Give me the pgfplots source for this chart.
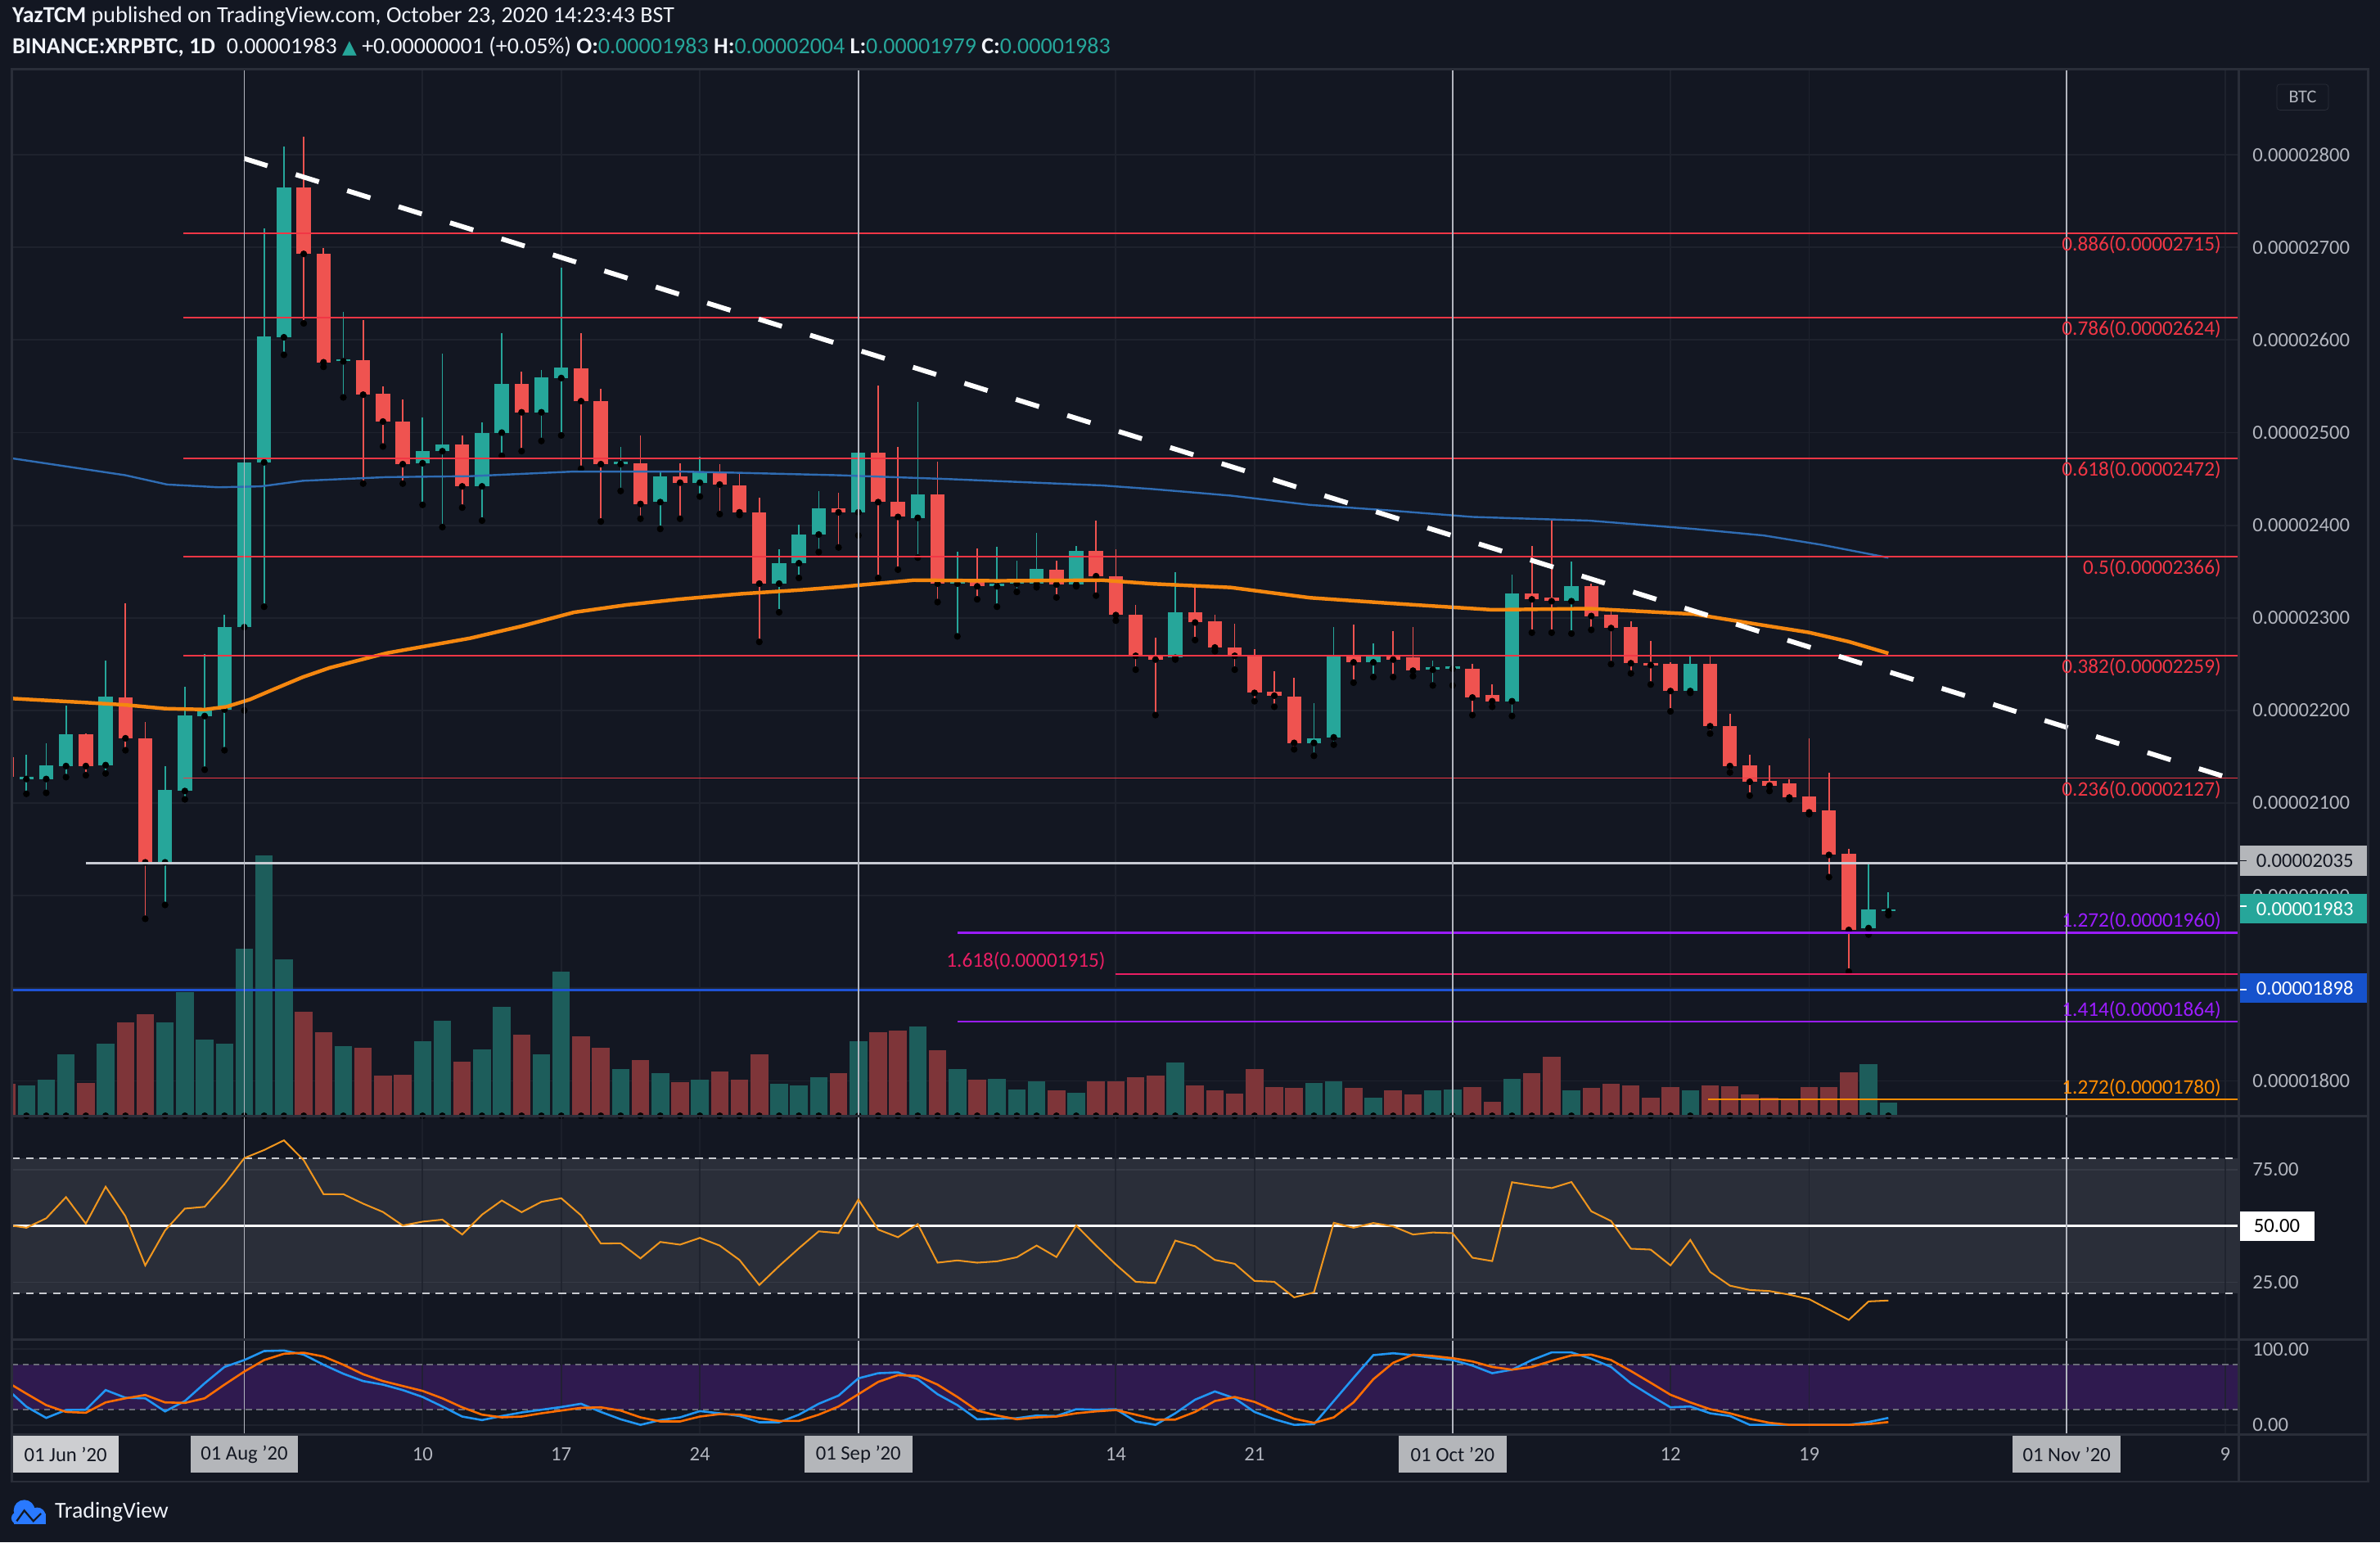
\documentclass[border=0pt]{standalone}
\usepackage{pgfplots}
\pgfplotsset{compat=1.18}
\usepackage{pgfplotstable}
\usepackage{fontspec}
\setmainfont{Carlito}
\newfontfamily\dejavu{DejaVu Sans}

\definecolor{bg}{HTML}{131722}
\definecolor{gridc}{HTML}{1E222D}
\definecolor{framec}{HTML}{2A2E39}
\definecolor{upc}{HTML}{26A69A}
\definecolor{dnc}{HTML}{EF5350}
\definecolor{volup}{HTML}{1D5D5B}
\definecolor{voldn}{HTML}{7E3539}
\definecolor{fibred}{HTML}{F23645}
\definecolor{purp}{HTML}{9B1CFF}
\definecolor{pinkc}{HTML}{E91E63}
\definecolor{bluel}{HTML}{1E53D6}
\definecolor{bluebox}{HTML}{1652CC}
\definecolor{orl}{HTML}{FF8C00}
\definecolor{ma100}{HTML}{F5870F}
\definecolor{ma200}{HTML}{2F6CB3}
\definecolor{tvtext}{HTML}{B2B5BE}
\definecolor{rsiband}{HTML}{2A2E39}
\definecolor{rsigrid}{HTML}{363A45}
\definecolor{stband}{HTML}{2F1A4F}
\definecolor{rsic}{HTML}{F0961E}
\definecolor{stk}{HTML}{2196F3}
\definecolor{std}{HTML}{FF6D00}
\definecolor{labelbox}{HTML}{B4B6BA}
\definecolor{junbox}{HTML}{CDCED1}
\definecolor{monthc}{HTML}{B2B5BE}
\definecolor{hdr}{HTML}{F0F3FA}
\definecolor{line2035}{HTML}{C8CBD3}
\definecolor{rsidash}{HTML}{C8CAD0}
\definecolor{stdash}{HTML}{6A6D78}
\definecolor{tvblue}{HTML}{2979FF}

\newcommand{\tickfont}{\fontsize{13.3}{15}\selectfont}
\newcommand{\lblfont}{\fontsize{13.6}{15}\selectfont}

% candles: d O H L C V   (prices in 1e-8 BTC)
\pgfplotstableread{
d O H L C V
-11 2126 2152 2110 2127 98
-10 2126 2165 2111 2141 114
-9 2140 2205 2128 2174 195
-7 2141 2254 2132 2215 231
-4 2036 2140 1990 2114 297
-3 2113 2226 2104 2195 396
-2 2194 2261 2136 2201 244
-1 2201 2303 2157 2290 231
0 2290 2519 2200 2468 532
1 2468 2721 2312 2604 832
2 2603 2809 2584 2765 500
5 2577 2630 2538 2578 223
9 2467 2516 2422 2480 237
10 2480 2585 2398 2487 304
12 2442 2511 2405 2500 213
13 2500 2607 2475 2553 349
15 2522 2568 2491 2560 197
16 2559 2678 2497 2570 459
19 2466 2485 2437 2468 148
21 2425 2457 2396 2453 135
23 2446 2474 2431 2458 116
27 2337 2374 2306 2359 103
28 2359 2401 2343 2390 98
29 2390 2437 2371 2418 124
31 2414 2491 2389 2478 239
34 2408 2533 2365 2433 286
36 2337 2371 2280 2338 148
38 2334 2377 2312 2337 119
39 2337 2362 2328 2339 85
40 2337 2392 2333 2353 111
42 2336 2378 2334 2372 74
47 2257 2349 2255 2306 169
54 2165 2208 2151 2170 106
55 2171 2290 2163 2260 111
57 2252 2272 2236 2260 59
60 2244 2254 2227 2246 80
61 2245 2256 2227 2246 85
64 2210 2347 2194 2326 119
67 2318 2361 2283 2334 82
73 2221 2259 2219 2250 80
82 1965 2034 1958 1985 166
83 1983 2004 1979 1983 43
}\upT

\pgfplotstableread{
d O H L C V
-12 2150 2169 2126 2128 103
-8 2174 2175 2130 2140 106
-6 2214 2316 2157 2170 299
-5 2170 2188 1975 2036 323
3 2765 2820 2618 2693 333
4 2693 2699 2571 2576 268
6 2578 2622 2445 2541 218
7 2542 2550 2485 2512 127
8 2512 2536 2445 2466 132
11 2487 2497 2419 2442 174
14 2553 2566 2480 2522 260
17 2569 2607 2461 2534 255
18 2534 2547 2404 2466 218
20 2467 2497 2407 2423 179
22 2453 2467 2407 2446 108
24 2457 2466 2412 2444 142
25 2443 2456 2411 2414 114
26 2414 2430 2274 2337 197
30 2418 2435 2376 2414 135
32 2478 2551 2343 2425 268
33 2425 2485 2352 2409 273
35 2433 2469 2317 2337 208
37 2341 2375 2320 2334 116
41 2352 2362 2322 2336 82
43 2372 2405 2324 2345 111
44 2345 2374 2297 2303 111
45 2303 2314 2244 2259 122
46 2259 2279 2195 2255 129
48 2306 2333 2276 2295 98
49 2296 2303 2264 2268 82
50 2268 2294 2244 2259 72
51 2260 2266 2210 2219 150
52 2220 2242 2204 2216 93
53 2215 2235 2158 2165 88
56 2260 2293 2230 2252 90
58 2260 2286 2236 2255 82
59 2257 2290 2237 2243 69
62 2245 2250 2195 2214 93
63 2217 2228 2204 2210 46
65 2326 2378 2284 2320 137
66 2322 2407 2284 2318 189
68 2334 2337 2287 2302 90
69 2303 2310 2250 2289 101
70 2290 2296 2240 2251 98
71 2251 2275 2228 2249 59
72 2250 2252 2199 2221 93
74 2250 2258 2175 2183 98
75 2183 2196 2133 2140 95
76 2141 2152 2108 2123 69
77 2124 2141 2113 2119 59
78 2121 2126 2104 2106 56
79 2107 2170 2088 2090 93
80 2092 2133 2020 2044 93
81 2045 2051 1918 1963 140
}\dnT

\pgfplotstableread{
d p
-11.8 2213
-8.4 2209
-6 2206
-4 2202
-2 2201
-0.9 2204
0.3 2212
1.5 2223
2.95 2236
4.3 2246
7.2 2262
11.4 2278
14 2291
16.65 2306
19.3 2314
21.9 2320
25.1 2326
28 2330
30.1 2333.5
33.8 2340.7
38 2340
43.3 2340.7
45.9 2336.7
49.8 2332.8
53.8 2321.7
57.8 2315.8
63 2308.7
67.9 2310
73.2 2304
76.1 2294
79 2284.2
81 2274.3
83 2261.7
}\maA

\pgfplotstableread{
d p
-11.8 2472.5
-6 2454
-3.9 2444
-1.3 2441
0.84 2442
2.95 2448
7.2 2452
11.4 2453
16.65 2458
21.9 2458
24.85 2456.7
30 2454
35.4 2450
43.3 2443
45.9 2439
49.8 2432
53.8 2422
57.8 2416
62 2409
67.9 2405
73.2 2396
76.7 2389
79.6 2379
83 2365
}\maB

\pgfplotstableread{
d r
-12 50.5
-11 49.2
-10 53.4
-9 62.8
-8 51
-7 67.4
-6 54.3
-5 32.5
-4 48
-3 57.7
-2 58.5
-1 68.6
0 80.1
1 83.7
2 88
3 79.2
4 64.1
5 64.1
6 59.9
7 56.2
8 50.2
9 51.9
10 52.8
11 46.2
12 55
13 61.3
14 56.1
15 60.7
16 62.3
17 54.7
18 42.2
19 42.3
20 35.6
21 42.9
22 41.7
23 44.7
24 41.3
25 34.9
26 23.8
27 32.2
28 40.1
29 47.6
30 46.8
31 61.7
32 48.4
33 45
34 50.8
35 33.7
36 34.7
37 33.7
38 34.3
39 36.1
40 41.3
41 36.2
42 50.2
43 41.3
44 32.9
45 25.2
46 24.7
47 43.5
48 41
49 34.9
50 33.2
51 25.6
52 25.2
53 18.3
54 20.5
55 51.4
56 49.2
57 51.3
58 49.8
59 46.2
60 47.1
61 46.8
62 35.9
63 34.4
64 69.4
65 68
66 66.8
67 69.5
68 56.5
69 52.2
70 39.9
71 39.5
72 32.5
73 43.8
74 29.6
75 23.5
76 21.6
77 21.1
78 19.5
79 17.5
80 12.9
81 8.3
82 16.5
83 16.9
}\rsiT

\pgfplotstableread{
d k s
-12 48 57
-11 24 41.3
-10 9.2 26.1
-9 19.6 17.1
-8 20 16
-7 46 29.7
-6 35.9 35.1
-5 35.1 39.5
-4 17.8 29.7
-3 31.5 29
-2 55 35.1
-1 76.6 53.2
0 85.7 70.5
1 97.6 85.7
2 98.3 94
3 92.9 95.4
4 79.5 90.4
5 67.6 79.5
6 57.9 66.9
7 53.2 57.9
8 46 51.4
9 36.9 44.9
10 24.3 35.1
11 11 23.2
12 6.3 13.5
13 11.7 9.9
14 16.4 11
15 20 15.3
16 23.6 18.9
17 27.9 22.5
18 17.1 23.2
19 7.4 18.9
20 0 9.9
21 6.3 4.5
22 9.9 4.5
23 18.2 11
24 15.3 14.2
25 11.7 13.5
26 3.4 8.8
27 3.4 5.2
28 13.5 5.2
29 27.9 13.5
30 38.7 24.3
31 61.5 40.5
32 68.3 56.8
33 69.4 65.8
34 60.4 64.7
35 40.5 53.2
36 26.1 36.9
37 7.4 18.9
38 8.1 12.4
39 8.8 7.4
40 12.4 9.9
41 11.7 11
42 20.7 15.3
43 20 17.8
44 20.7 19.6
45 4.5 13.5
46 0 7
47 15.3 7
48 33.3 17.1
49 44.2 31.5
50 35.1 36.9
51 17.1 30.4
52 7.4 18.9
53 0 8.1
54 0.9 2.7
55 31.5 9.9
56 62.2 29.7
57 92.2 60.4
58 94.7 82.1
59 92.2 92.9
60 88.5 91.1
61 85.7 88.2
62 78.4 83.9
63 68.3 76.6
64 73 73
65 85.7 76.6
66 95.8 84.6
67 95.8 91.8
68 87.5 92.9
69 76.6 85.7
70 55 71.2
71 38.7 55.7
72 23.2 39.8
73 24.3 29.7
74 15.3 20.7
75 11.7 15.3
76 0 8.1
77 0 2.7
78 0 0
79 0 0
80 0 0
81 0 0
82 3.7 0.9
83 9.2 3.7
}\stT

\pgfplotsset{
  tvax/.style={
    anchor=south west, x=13.05pt, xmin=-11.72, xmax=100.69,
    axis line style={draw=none}, clip mode=individual,
    xtick={9,16,23,44,51,72,79,100}, xticklabels={},
    major tick length=0pt,
    yticklabel pos=right,
    ticklabel style={font=\tickfont, text=tvtext},
    yticklabel style={anchor=west, xshift=5.6pt},
  },
  wick/.style={only marks, mark=none, error bars/.cd, y dir=plus, y explicit,
    error mark=none, error bar style={line width=0.9pt, draw=#1}},
  body/.style={only marks, mark=none, error bars/.cd, y dir=plus, y explicit,
    error mark=none, error bar style={line width=9.4pt, draw=#1}},
  vol/.style={only marks, mark=none, error bars/.cd, y dir=plus, y explicit,
    error mark=none, error bar style={line width=11.6pt, draw=#1}},
}

\begin{document}
\begin{tikzpicture}[x=1pt,y=1pt]
\fill[bg] (0pt,0pt) rectangle (1568pt,1016pt);
\path[use as bounding box] (0pt,0pt) rectangle (1568pt,1016pt);

% ================= MAIN PRICE PANEL =================
\begin{axis}[tvax, at={(8pt,281pt)}, y=0.61pt, ymin=1762.3, ymax=2893.4,
  ytick={1800,1900,2000,2100,2200,2300,2400,2500,2600,2700,2800},
  yticklabels={0.00001800,0.00001900,0.00002000,0.00002100,0.00002200,0.00002300,0.00002400,0.00002500,0.00002600,0.00002700,0.00002800},
  xmajorgrids, ymajorgrids, grid style={gridc, line width=1pt}]
% volume
\addplot[vol=volup] table[x=d, y expr=1762.3, y error plus expr=\thisrow{V}*0.33836] {\upT};
\addplot[vol=voldn] table[x=d, y expr=1762.3, y error plus expr=\thisrow{V}*0.33836] {\dnT};
% candles
\addplot[wick=upc] table[x=d, y=L, y error plus expr=\thisrow{H}-\thisrow{L}] {\upT};
\addplot[wick=dnc] table[x=d, y=L, y error plus expr=\thisrow{H}-\thisrow{L}] {\dnT};
\addplot[body=upc] table[x=d, y=O, y error plus expr={max(\thisrow{C}-\thisrow{O},2.5)}] {\upT};
\addplot[body=dnc] table[x=d, y=C, y error plus expr={max(\thisrow{O}-\thisrow{C},2.5)}] {\dnT};
% moving averages
\addplot[ma200, line width=1.3pt] table[x=d, y=p] {\maB};
\addplot[ma100, line width=2.4pt] table[x=d, y=p] {\maA};
% fibonacci retracement lines
\addplot[fibred, line width=1pt] coordinates {(-3.07,2715) (100.69,2715)};
\addplot[fibred, line width=1pt] coordinates {(-3.07,2624) (100.69,2624)};
\addplot[fibred, line width=1pt] coordinates {(-3.07,2472) (100.69,2472)};
\addplot[fibred, line width=1pt] coordinates {(-3.07,2366) (100.69,2366)};
\addplot[fibred, line width=1pt] coordinates {(-3.07,2259) (100.69,2259)};
\addplot[fibred, line width=1pt] coordinates {(-3.07,2127) (100.69,2127)};
% extensions / levels
\addplot[line2035, line width=1.2pt] coordinates {(-8,2035) (100.69,2035)};
\addplot[purp, line width=1.3pt] coordinates {(36,1960) (100.69,1960)};
\addplot[pinkc, line width=1.1pt] coordinates {(44,1915) (100.69,1915)};
\addplot[bluel, line width=1.2pt] coordinates {(-11.72,1898) (100.69,1898)};
\addplot[purp, line width=1.3pt] coordinates {(36,1864) (100.69,1864)};
\addplot[orl, line width=1.1pt] coordinates {(73.9,1780) (100.69,1780)};
% trend line
\addplot[white, line width=3.2pt, dash pattern=on 16pt off 19.5pt] coordinates {(0,2796) (100.2,2127)};
% month lines
\pgfplotsinvokeforeach{0,31,61,92}{\draw[monthc, line width=0.8pt] (axis cs:#1,1762.3) -- (axis cs:#1,2893.4);}
% labels
\node[anchor=north east, text=fibred, font=\lblfont, inner sep=1.5pt] at (axis cs:99.92,2715) {0.886(0.00002715)};
\node[anchor=north east, text=fibred, font=\lblfont, inner sep=1.5pt] at (axis cs:99.92,2624) {0.786(0.00002624)};
\node[anchor=north east, text=fibred, font=\lblfont, inner sep=1.5pt] at (axis cs:99.92,2472) {0.618(0.00002472)};
\node[anchor=north east, text=fibred, font=\lblfont, inner sep=1.5pt] at (axis cs:99.92,2366) {0.5(0.00002366)};
\node[anchor=north east, text=fibred, font=\lblfont, inner sep=1.5pt] at (axis cs:99.92,2259) {0.382(0.00002259)};
\node[anchor=north east, text=fibred, font=\lblfont, inner sep=1.5pt] at (axis cs:99.92,2127) {0.236(0.00002127)};
\node[anchor=south east, text=purp, font=\lblfont, inner sep=1.5pt] at (axis cs:99.92,1960) {1.272(0.00001960)};
\node[anchor=south east, text=purp, font=\lblfont, inner sep=1.5pt] at (axis cs:99.92,1864) {1.414(0.00001864)};
\node[anchor=south east, text=orl, font=\lblfont, inner sep=1.5pt] at (axis cs:99.92,1780) {1.272(0.00001780)};
\node[anchor=south east, text=pinkc, font=\lblfont, inner sep=1.5pt] at (axis cs:43.6,1917) {1.618(0.00001915)};
\end{axis}

% ================= RSI PANEL =================
\begin{axis}[tvax, at={(8pt,133.5pt)}, y=1.484pt, ymin=-0.5, ymax=98.9,
  ytick={25,75}, yticklabels={25.00,75.00}]
\fill[rsiband] (axis cs:-11.72,20) rectangle (axis cs:100.69,80);
\draw[rsigrid, line width=1pt] (axis cs:-11.72,25) -- (axis cs:100.69,25);
\draw[rsigrid, line width=1pt] (axis cs:-11.72,75) -- (axis cs:100.69,75);
\pgfplotsinvokeforeach{9,16,23,44,51,72,79,100}{\draw[gridc, line width=1pt, opacity=0.8] (axis cs:#1,-0.5) -- (axis cs:#1,98.9);}
\draw[rsidash, line width=1.2pt, dash pattern=on 5pt off 4pt] (axis cs:-11.72,80) -- (axis cs:100.69,80);
\draw[rsidash, line width=1.2pt, dash pattern=on 5pt off 4pt] (axis cs:-11.72,20) -- (axis cs:100.69,20);
\draw[white, line width=1.6pt] (axis cs:-11.72,50) -- (axis cs:100.69,50);
\pgfplotsinvokeforeach{0,31,61,92}{\draw[monthc, line width=0.8pt] (axis cs:#1,-0.5) -- (axis cs:#1,98.9);}
\addplot[rsic, line width=1.1pt] table[x=d, y=r] {\rsiT};
\end{axis}

% ================= STOCH RSI PANEL =================
\begin{axis}[tvax, at={(8pt,71pt)}, y=0.498pt, ymin=-12.9, ymax=112.6,
  ytick={0,100}, yticklabels={0.00,100.00},
  xticklabels={10,17,24,14,21,12,19,9},
  xticklabel style={anchor=center, yshift=-13pt},
  extra x ticks={0,31,61,92},
  extra x tick labels={01 Aug '20,01 Sep '20,01 Oct '20,01 Nov '20},
  extra x tick style={xticklabel style={fill=labelbox, text=bg, minimum width=71pt, minimum height=24.5pt, inner sep=0pt}}]
\fill[stband] (axis cs:-11.72,20) rectangle (axis cs:100.69,80);
\draw[gridc, line width=1pt] (axis cs:-11.72,0) -- (axis cs:100.69,0);
\draw[gridc, line width=1pt] (axis cs:-11.72,100) -- (axis cs:100.69,100);
\pgfplotsinvokeforeach{9,16,23,44,51,72,79,100}{\draw[gridc, line width=1pt, opacity=0.8] (axis cs:#1,-12.9) -- (axis cs:#1,112.6);}
\draw[stdash, line width=1.2pt, dash pattern=on 4pt off 3pt] (axis cs:-11.72,80) -- (axis cs:100.69,80);
\draw[stdash, line width=1.2pt, dash pattern=on 4pt off 3pt] (axis cs:-11.72,20) -- (axis cs:100.69,20);
\pgfplotsinvokeforeach{0,31,61,92}{\draw[monthc, line width=0.8pt] (axis cs:#1,-12.9) -- (axis cs:#1,112.6);}
\addplot[stk, line width=1.4pt] table[x=d, y=k] {\stT};
\addplot[std, line width=1.4pt] table[x=d, y=s] {\stT};
\end{axis}

% ================= price scale boxes =================
\node[fill=labelbox, text=bg, minimum width=85pt, minimum height=19.6pt, inner sep=0pt, font=\tickfont] at (1517.5pt,449pt) {\hspace*{2pt}0.00002035};
\draw[bg, line width=1pt] (1475.5pt,449pt) -- (1480pt,449pt);
\node[fill=upc, text=white, minimum width=85pt, minimum height=19.6pt, inner sep=0pt, font=\tickfont] at (1517.5pt,417.6pt) {\hspace*{2pt}0.00001983};
\draw[white, line width=1pt] (1475.5pt,419pt) -- (1480pt,419pt);
\node[fill=bluebox, text=white, minimum width=85pt, minimum height=19.6pt, inner sep=0pt, font=\tickfont] at (1517.5pt,365.3pt) {\hspace*{2pt}0.00001898};
\draw[white, line width=1pt] (1475.5pt,364pt) -- (1480pt,364pt);
\node[fill=white, text=black, minimum width=50pt, minimum height=19.5pt, inner sep=0pt, font=\tickfont] at (1500pt,208.4pt) {50.00};
\node[draw=framec, rounded corners=2pt, text=tvtext, minimum width=34pt, minimum height=17pt, inner sep=0pt, font=\fontsize{12}{14}\selectfont] at (1517pt,952pt) {BTC};

% x-axis first label
\node[fill=junbox, text=bg, anchor=west, minimum width=70pt, minimum height=24.5pt, inner sep=0pt, font=\tickfont] at (8pt,58pt) {01 Jun '20};

% frames
\draw[framec, line width=1.5pt] (8pt,40pt) rectangle (1560pt,970.5pt);
\draw[framec, line width=1.5pt] (1475pt,40pt) -- (1475pt,970.5pt);
\draw[framec, line width=1.5pt] (8pt,281pt) -- (1560pt,281pt);
\draw[framec, line width=1.5pt] (8pt,133.5pt) -- (1560pt,133.5pt);
\draw[framec, line width=1.5pt] (8pt,71pt) -- (1560pt,71pt);

% header
\node[anchor=west, inner sep=0pt, text=hdr, font=\fontsize{15.1}{17}\selectfont] at (8pt,1005pt)
  {\textbf{YazTCM} published on TradingView.com, October 23, 2020 14:23:43 BST};
\node[anchor=west, inner sep=0pt, text=hdr, font=\fontsize{15.1}{17}\selectfont] at (8pt,985pt)
  {\textbf{BINANCE:XRPBTC, 1D}\enspace 0.00001983 {\color{upc}\dejavu\fontsize{12.5}{14}\selectfont ▲} +0.00000001 (+0.05\%) \textbf{O:}{\color{upc}0.00001983} \textbf{H:}{\color{upc}0.00002004} \textbf{L:}{\color{upc}0.00001979} \textbf{C:}{\color{upc}0.00001983}};

% footer logo
\fill[tvblue] (9pt,12pt) rectangle (30pt,19pt);
\fill[tvblue] (16pt,21pt) circle (7pt);
\fill[tvblue] (24.5pt,17.5pt) circle (5.5pt);
\fill[tvblue] (11.5pt,16pt) circle (4pt);
\draw[bg, line width=1.2pt] (11pt,14pt) -- (16pt,21pt) -- (22pt,14pt) -- (27pt,19pt);
\node[anchor=west, inner sep=0pt, text=hdr, font=\fontsize{15}{17}\selectfont] at (36pt,20pt) {TradingView};
\end{tikzpicture}
\end{document}
